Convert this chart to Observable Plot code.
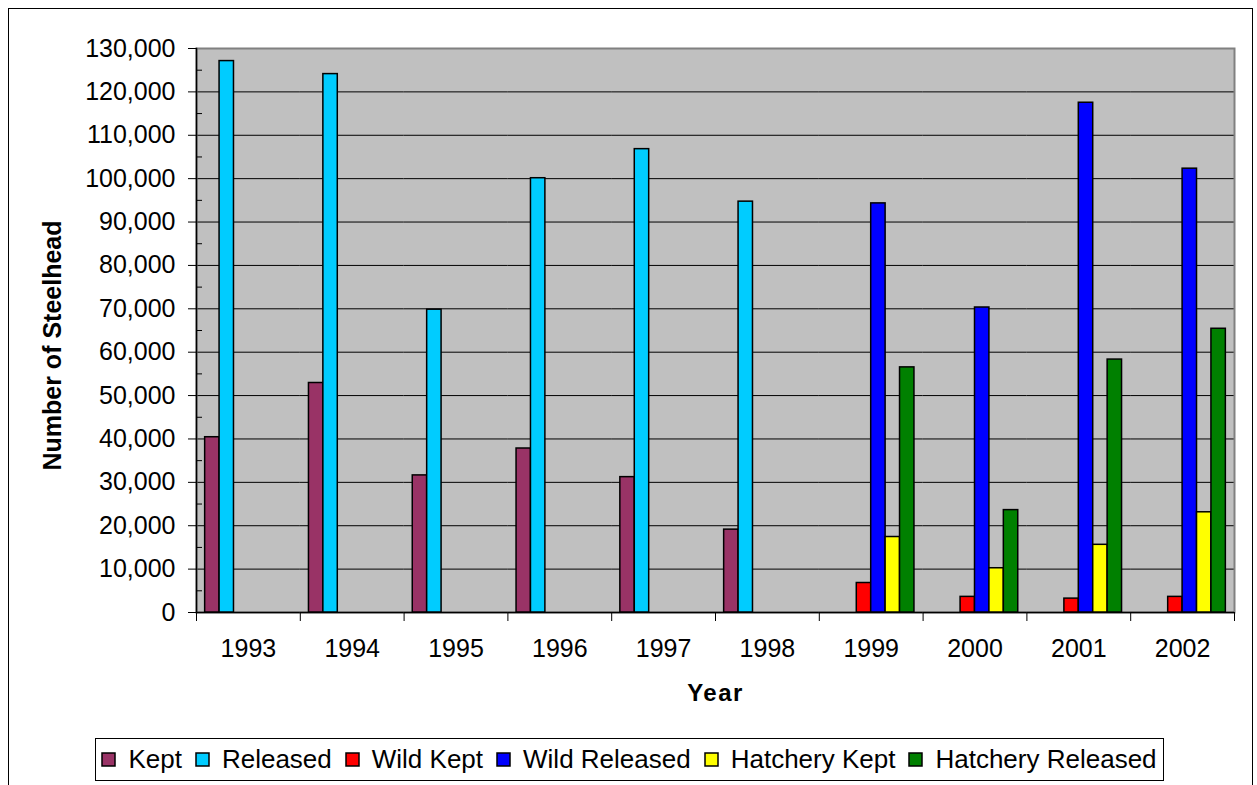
<!DOCTYPE html>
<html><head><meta charset="utf-8">
<script src="https://cdn.jsdelivr.net/npm/d3@7"></script>
<script src="https://cdn.jsdelivr.net/npm/@observablehq/plot@0.6"></script>
<style>
body{margin:0;background:#fff;font-family:"Liberation Sans",Arial,sans-serif;}
#outer{position:absolute;left:8px;top:8px;width:1243px;height:800px;border:1px solid #000;pointer-events:none;}
#chart{position:absolute;left:0;top:0;}
#legend{position:absolute;left:95px;top:738px;width:1067px;height:41px;border:1px solid #000;display:flex;align-items:center;justify-content:center;background:#fff;}
g[aria-label="fx-axis label"] text{font-weight:bold;letter-spacing:1.5px;font-size:24px;}
.lg-swatches{font-family:"Liberation Sans",Arial,sans-serif !important;font-size:26px !important;color:#000 !important;margin:0 !important;min-height:0 !important;}
.lg-swatch{margin-right:14px !important;}
.lg-swatch:last-child{margin-right:0 !important;}
.lg-swatch > svg{overflow:visible;margin-right:13px !important;}
.lg-swatch rect{stroke:#000;stroke-width:1.5;}
</style></head><body>
<div id="chart"></div><div id="legend"></div><div id="outer"></div>
<script>
const years = [1993, 1994, 1995, 1996, 1997, 1998, 1999, 2000, 2001, 2002];
const series = ["Kept", "Released", "Wild Kept", "Wild Released", "Hatchery Kept", "Hatchery Released"];
const colors = ["#993366", "#00CCFF", "#FF0000", "#0000FF", "#FFFF00", "#008000"];
const kept             = [40400, 52900, 31600, 37800, 31200, 19100, null, null, null, null];
const released         = [127100, 124100, 69800, 100100, 106800, 94700, null, null, null, null];
const wildKept         = [null, null, null, null, null, null, 6800, 3600, 3200, 3600];
const wildReleased     = [null, null, null, null, null, null, 94300, 70300, 117500, 102300];
const hatcheryKept     = [null, null, null, null, null, null, 17400, 10200, 15600, 23100];
const hatcheryReleased = [null, null, null, null, null, null, 56500, 23600, 58300, 65400];
const yTicks = [0, 10000, 20000, 30000, 40000, 50000, 60000, 70000, 80000, 90000, 100000, 110000, 120000, 130000];
const yMinorTicks = [5000, 15000, 25000, 35000, 45000, 55000, 65000, 75000, 85000, 95000, 105000, 115000, 125000];
const yTitle = "Number of Steelhead";
const xTitle = "Year";

const valuesBySeries = [kept, released, wildKept, wildReleased, hatcheryKept, hatcheryReleased];
const rows = [];
series.forEach((s, i) => years.forEach((yr, j) => {
  const v = valuesBySeries[i][j];
  if (v != null) rows.push({year: yr, series: s, value: v});
}));

const FONT = '"Liberation Sans", Arial, sans-serif';
const fmt = d3.format(",");
const plot = Plot.plot({
  width: 1257, height: 735,
  marginLeft: 196, marginRight: 23, marginTop: 48, marginBottom: 123,
  style: {fontFamily: FONT, fontSize: "25px", color: "#000", background: "transparent", overflow: "visible"},
  fx: {domain: years, padding: 0, round: false},
  x: {domain: series, paddingInner: 0, paddingOuter: 0.6, round: false, axis: null},
  y: {domain: [0, 130000]},
  color: {domain: series, range: colors},
  marks: [
    Plot.frame({facet: "super", fill: "#C0C0C0"}),
    Plot.ruleY(yTicks.slice(1, -1), {stroke: "#000", strokeWidth: 1}),
    Plot.frame({facet: "super", stroke: "#808080", strokeWidth: 2}),
    Plot.ruleY([0], {stroke: "#000", strokeWidth: 1.5}),
    Plot.frame({facet: "super", anchor: "left", stroke: "#000", strokeWidth: 1.5}),
    Plot.barY(rows, {fx: "year", x: "series", y: "value", fill: "series", stroke: "#000", strokeWidth: 1.5}),
    Plot.axisY({anchor: "left", ticks: yTicks, tickFormat: d => fmt(d), tickSize: 8, tickPadding: 13, label: null}),
    Plot.axisY({anchor: "left", ticks: yMinorTicks, tickFormat: () => "", tickSize: 6, dx: 6, label: null}),
    Plot.text([yTitle], {facet: "super", frameAnchor: "left", textAnchor: "middle", lineAnchor: "middle", rotate: -90, dx: -144, dy: 15, fontWeight: "bold", fontSize: 25}),
    Plot.axisFx({anchor: "bottom", tickSize: 0, tickPadding: 27, tickFormat: d => String(d), label: xTitle, labelAnchor: "center", labelOffset: 88, labelArrow: "none"}),
    Plot.frame({anchor: "left", insetTop: 564, insetBottom: -8, stroke: "#000", strokeWidth: 1}),
    Plot.frame({facet: "super", anchor: "right", insetTop: 564, insetBottom: -8, stroke: "#000", strokeWidth: 1})
  ]
});
document.getElementById("chart").appendChild(plot);

const legend = Plot.legend({color: {domain: series, range: colors}, legend: "swatches", swatchSize: 13, className: "lg"});
document.getElementById("legend").appendChild(legend);
</script>
</body></html>
